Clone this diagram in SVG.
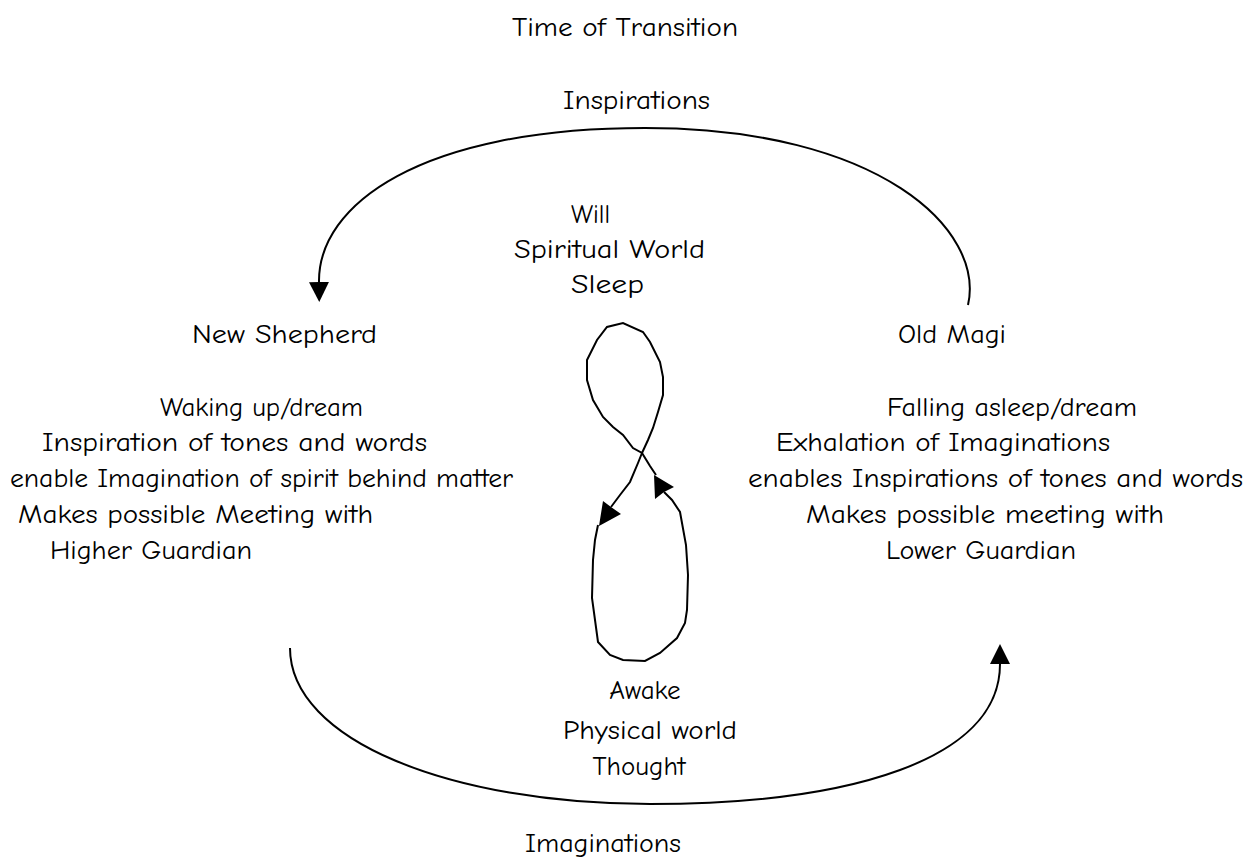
<svg xmlns="http://www.w3.org/2000/svg" width="1255" height="862" viewBox="0 0 1255 862">
<style>
text{font-family:"Comic Neue","Open Sans","DejaVu Sans",sans-serif;font-size:27px;fill:#000}
.c{text-anchor:middle}
.ln{fill:none;stroke:#000;stroke-width:2}
</style>
<defs>
<marker id="ah" markerUnits="userSpaceOnUse" markerWidth="22" markerHeight="22" refX="0" refY="10" orient="auto">
<path d="M0,0 L20,10 L0,20 z" fill="#000"/>
</marker>
</defs>
<rect width="1255" height="862" fill="#fff"/>
<g id="title"><text x="512" y="36" textLength="226" lengthAdjust="spacingAndGlyphs">Time of Transition</text></g>
<g id="inspirations"><text x="563" y="109" textLength="147" lengthAdjust="spacingAndGlyphs">Inspirations</text></g>
<g id="center-top">
<text x="571" y="223" textLength="39" lengthAdjust="spacingAndGlyphs">Will</text>
<text x="514" y="258" textLength="191" lengthAdjust="spacingAndGlyphs">Spiritual World</text>
<text x="571" y="293" textLength="73" lengthAdjust="spacingAndGlyphs">Sleep</text>
</g>
<g id="new-shepherd">
<text x="192" y="343" textLength="185" lengthAdjust="spacingAndGlyphs">New Shepherd</text>
<text x="160" y="416" textLength="203" lengthAdjust="spacingAndGlyphs">Waking up/dream</text>
<text x="42" y="451" textLength="385" lengthAdjust="spacingAndGlyphs">Inspiration of tones and words</text>
<text x="10" y="487" textLength="503" lengthAdjust="spacingAndGlyphs">enable Imagination of spirit behind matter</text>
<text x="18" y="523" textLength="355" lengthAdjust="spacingAndGlyphs">Makes possible Meeting with</text>
<text x="50" y="559" textLength="202" lengthAdjust="spacingAndGlyphs">Higher Guardian</text>
</g>
<g id="old-magi">
<text x="898" y="343" textLength="108" lengthAdjust="spacingAndGlyphs">Old Magi</text>
<text x="887" y="416" textLength="250" lengthAdjust="spacingAndGlyphs">Falling asleep/dream</text>
<text x="776" y="451" textLength="334" lengthAdjust="spacingAndGlyphs">Exhalation of Imaginations</text>
<text x="748" y="487" textLength="495" lengthAdjust="spacingAndGlyphs">enables Inspirations of tones and words</text>
<text x="806" y="523" textLength="358" lengthAdjust="spacingAndGlyphs">Makes possible meeting with</text>
<text x="886" y="559" textLength="190" lengthAdjust="spacingAndGlyphs">Lower Guardian</text>
</g>
<g id="center-bottom">
<text class="c" x="645" y="699">Awake</text>
<text x="563" y="739" textLength="174" lengthAdjust="spacingAndGlyphs">Physical world</text>
<text class="c" x="639" y="775">Thought</text>
</g>
<g id="imaginations"><text x="525" y="852" textLength="156" lengthAdjust="spacingAndGlyphs">Imaginations</text></g>
<g id="connectors">
<path class="ln" d="M968,305 C985,230 880,128 645,128 C420,128 318,205 319,282" marker-end="url(#ah)"/>
<path class="ln" d="M290,648 C290,740 450,804 650,804 C850,804 1000,760 1000,664" marker-end="url(#ah)"/>
<path class="ln" d="M642,453 L648,440 L653,428 L658,412 L663,395 L663,377 L660,362 L650,342 L643,332 L623,323 L607,327 L597,340 L587,360 L587,380 L593,400 L603,417 L613,427 L623,435 L633,448 L642,453 L650,466 L656,475"/>
<path class="ln" d="M664,492 L672,500 L680,512 L686,545 L688,575 L687,610 L685,623 L677,638 L660,653 L645,661 L623,660 L610,655 L598,642 L592,598 L593,560 L595,540 L598,525"/>
<path class="ln" d="M642,453 L638,463 L630,482 L620,495 L611,507"/>
<polygon points="611,507 621,514 599,526 603,501" fill="#000"/>
<polygon points="664,492 655,499 654,475 674,487" fill="#000"/>
</g>
</svg>
